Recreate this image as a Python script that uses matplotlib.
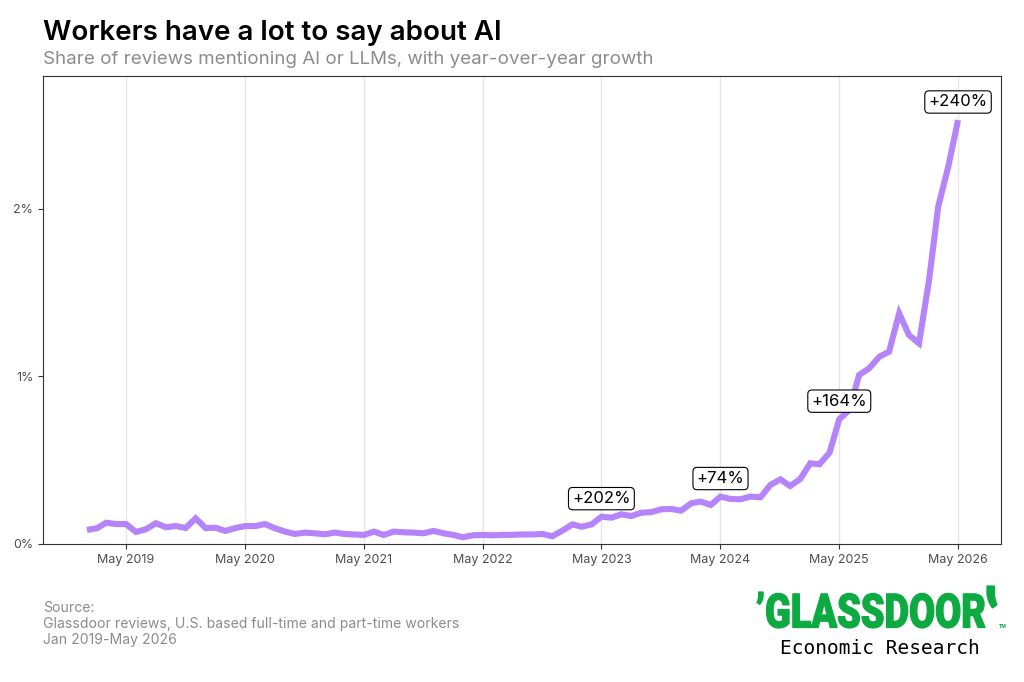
import numpy as np
import pandas as pd
import matplotlib
matplotlib.use("Agg")
import matplotlib.pyplot as plt
import matplotlib.dates as mdates
from matplotlib.ticker import FuncFormatter
from matplotlib.textpath import TextPath
from matplotlib.patches import PathPatch
from matplotlib.font_manager import FontProperties
from matplotlib.transforms import Affine2D

plt.rcParams['font.family'] = ['Inter', 'DejaVu Sans']

# monthly share of reviews mentioning AI or LLMs (%), Jan 2019 - May 2026
share_2019 = [0.084, 0.094, 0.127, 0.119, 0.119, 0.072, 0.088, 0.124, 0.100, 0.107, 0.096, 0.153]
share_2020 = [0.095, 0.097, 0.078, 0.095, 0.107, 0.107, 0.119, 0.094, 0.074, 0.060, 0.068, 0.064]
share_2021 = [0.058, 0.068, 0.060, 0.057, 0.054, 0.074, 0.054, 0.074, 0.070, 0.068, 0.064, 0.078]
share_2022 = [0.064, 0.054, 0.040, 0.052, 0.054, 0.052, 0.054, 0.055, 0.057, 0.057, 0.060, 0.046]
share_2023 = [0.080, 0.117, 0.103, 0.117, 0.163, 0.157, 0.177, 0.167, 0.187, 0.190, 0.207, 0.209]
share_2024 = [0.199, 0.243, 0.253, 0.233, 0.283, 0.269, 0.267, 0.283, 0.279, 0.352, 0.386, 0.346]
share_2025 = [0.388, 0.482, 0.476, 0.545, 0.745, 0.800, 1.009, 1.049, 1.118, 1.148, 1.377, 1.248]
share_2026 = [1.198, 1.576, 2.014, 2.253, 2.531]

share = share_2019 + share_2020 + share_2021 + share_2022 + share_2023 + share_2024 + share_2025 + share_2026
months = pd.date_range('2019-01-01', periods=len(share), freq='MS')

# year-over-year growth callouts
growth_dates = ['2023-05-01', '2024-05-01', '2025-05-01', '2026-05-01']
growth_labels = ['+202%', '+74%', '+164%', '+240%']

yticks = [0, 1, 2]
xtick_dates = pd.date_range('2019-05-01', '2026-05-01', freq='12MS')

line_color = '#b584fb'
grid_color = '#e6e6e6'
text_gray = '#8c8c8c'
green = '#0caa41'

fig = plt.figure(figsize=(10.24, 6.82), dpi=100)
ax = fig.add_axes([43 / 1024, 1 - 544 / 682, (1001 - 43) / 1024, (544 - 76) / 682])

ax.plot(months, share, color=line_color, lw=4.4, solid_joinstyle='miter', solid_capstyle='butt', zorder=3)

s = pd.Series(share, index=months)
for d, lab in zip(growth_dates, growth_labels):
    d = pd.Timestamp(d)
    ax.annotate(lab, (d, s[d]), xytext=(0, 13), textcoords='offset points',
                ha='center', va='center', fontsize=12, color='black', zorder=5,
                bbox=dict(boxstyle='round,pad=0.22,rounding_size=0.25', fc='white', ec='black', lw=0.8))

ax.set_xlim(pd.Timestamp('2018-08-19'), pd.Timestamp('2026-09-10'))
ax.set_ylim(0, 2.794)
ax.set_xticks(xtick_dates)
ax.xaxis.set_major_formatter(mdates.DateFormatter('%b %Y'))
ax.set_yticks(yticks)
ax.yaxis.set_major_formatter(FuncFormatter(lambda v, p: f'{v:g}%'))
ax.grid(axis='x', color=grid_color, lw=1)
ax.set_axisbelow(True)
ax.tick_params(length=3.5, width=0.8, color='#333333', labelsize=9, labelcolor='#4d4d4d')
for sp in ax.spines.values():
    sp.set_color('#333333')
    sp.set_linewidth(0.8)

fig.text(43 / 1024, 1 - 33 / 682, 'Workers have a lot to say about AI', fontsize=20,
         fontweight='semibold', va='center', ha='left', color='black')
fig.text(43 / 1024, 1 - 60 / 682, 'Share of reviews mentioning AI or LLMs, with year-over-year growth',
         fontsize=13.5, va='center', ha='left', color=text_gray)

source_lines = ['Source:', 'Glassdoor reviews, U.S. based full-time and part-time workers', 'Jan 2019-May 2026']
for i, t in enumerate(source_lines):
    fig.text(43 / 1024, 1 - (608 + 16 * i) / 682, t, fontsize=10.1, va='center', ha='left', color=text_gray)


def place_path(text, x0, y_top, width, height, mirror=False, weight='black'):
    # draw text as a filled path squeezed into a pixel box
    tp = TextPath((0, 0), text, size=100, prop=FontProperties(family='Roboto', weight=weight))
    ext = tp.get_extents()
    tr = Affine2D().translate(-ext.x0, -ext.y0).scale(width / ext.width, height / ext.height)
    if mirror:
        tr = tr.scale(-1, 1).translate(width, 0)
    tr = tr.translate(x0, 682 - y_top - height).scale(1 / 1024, 1 / 682) + fig.transFigure
    fig.patches.append(PathPatch(tp, transform=tr, fc=green, ec=green, lw=0.9))


# Glassdoor wordmark
place_path('\u2019GLASSDOOR', 757, 592, 228, 36)
place_path('\u2019', 987, 586, 10, 22, mirror=True)
fig.text(999 / 1024, 1 - 627 / 682, 'TM', fontsize=3.5, color=green, ha='left', va='center', fontweight='bold')
fig.text(880 / 1024, 1 - 649 / 682, 'Economic Research', family='DejaVu Sans Mono', fontsize=14,
         ha='center', va='center', color='black')

fig.savefig('out.png', dpi=100)
